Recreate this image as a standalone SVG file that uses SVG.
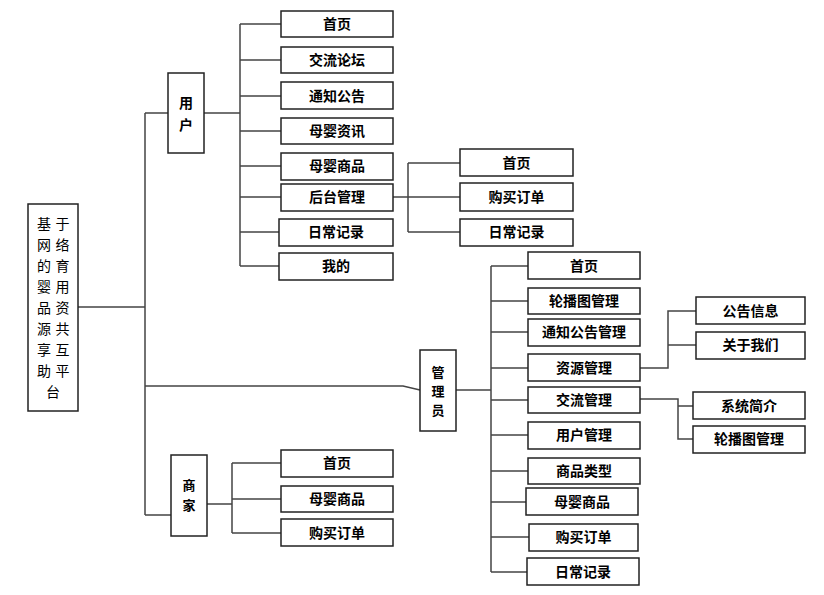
<svg xmlns="http://www.w3.org/2000/svg" width="824" height="595" viewBox="0 0 824 595">
<style>
.b{fill:#fff;stroke:#222;stroke-width:1.5}
.t{font-family:"Noto Sans CJK SC","Noto Sans",sans-serif;font-size:14px;font-weight:bold;fill:#000;text-anchor:middle}
.v{font-family:"Noto Sans CJK SC","Noto Sans",sans-serif;font-size:13px;font-weight:bold;fill:#000;text-anchor:middle}
.r{font-family:"Noto Sans CJK SC","Noto Sans",sans-serif;font-size:14px;fill:#000;text-anchor:middle}
.c{fill:none;stroke:#444;stroke-width:1.5}
</style>
<rect width="824" height="595" fill="#fff"/>
<g id="connectors">
<path class="c" d="M78,307H145M145,113V515M145,113H168M145,386H403L420,390M145,515H171"/>
<path class="c" d="M204,113H240M240,24V266M240,24H281M240,60H281M240,96H281M240,131H281M240,166H281M240,197H281M240,232H279M240,266H279"/>
<path class="c" d="M393,197H460M408,163V232M408,163H460M408,232H460"/>
<path class="c" d="M456,390H491M491,266V572M491,266H528M491,301H528M491,332H528M491,368H528M491,400H528M491,435H528M491,471H528M491,502H526M491,537H529M491,572H527"/>
<path class="c" d="M640,368H668V311H696M668,345H696"/>
<path class="c" d="M640,399H678V439H693M678,406H693"/>
<path class="c" d="M207,504H232M232,463V533M232,463H281M232,499H281M232,533H281"/>
</g>
<g id="root">
<rect class="b" x="28" y="204" width="50" height="207"/>
<text class="r"><tspan x="44" y="228.5">基</tspan><tspan x="62.5" y="228.5">于</tspan><tspan x="44" y="249.5">网</tspan><tspan x="62.5" y="249.5">络</tspan><tspan x="44" y="270.5">的</tspan><tspan x="62.5" y="270.5">育</tspan><tspan x="44" y="291.5">婴</tspan><tspan x="62.5" y="291.5">用</tspan><tspan x="44" y="312.5">品</tspan><tspan x="62.5" y="312.5">资</tspan><tspan x="44" y="333.5">源</tspan><tspan x="62.5" y="333.5">共</tspan><tspan x="44" y="354.5">享</tspan><tspan x="62.5" y="354.5">互</tspan><tspan x="44" y="375.5">助</tspan><tspan x="62.5" y="375.5">平</tspan><tspan x="53" y="396.5">台</tspan></text>
</g>
<g id="user">
<rect class="b" x="168" y="73" width="36" height="80"/>
<text class="t"><tspan x="186" y="108">用</tspan><tspan x="186" y="130">户</tspan></text>
</g>
<g id="u1"><rect class="b" x="281" y="11" width="112" height="26"/><text class="t" x="337" y="29">首页</text></g>
<g id="u2"><rect class="b" x="281" y="47" width="112" height="26"/><text class="t" x="337" y="65">交流论坛</text></g>
<g id="u3"><rect class="b" x="281" y="82" width="112" height="27"/><text class="t" x="337" y="101">通知公告</text></g>
<g id="u4"><rect class="b" x="281" y="118" width="112" height="26"/><text class="t" x="337" y="136">母婴资讯</text></g>
<g id="u5"><rect class="b" x="281" y="153" width="112" height="27"/><text class="t" x="337" y="171">母婴商品</text></g>
<g id="u6"><rect class="b" x="281" y="184" width="112" height="27"/><text class="t" x="337" y="202">后台管理</text></g>
<g id="u7"><rect class="b" x="279" y="219" width="114" height="27"/><text class="t" x="336" y="237">日常记录</text></g>
<g id="u8"><rect class="b" x="279" y="253" width="114" height="27"/><text class="t" x="336" y="271">我的</text></g>
<g id="h1"><rect class="b" x="460" y="149" width="113" height="27"/><text class="t" x="516.5" y="168">首页</text></g>
<g id="h2"><rect class="b" x="460" y="183" width="113" height="28"/><text class="t" x="516.5" y="202">购买订单</text></g>
<g id="h3"><rect class="b" x="460" y="219" width="113" height="27"/><text class="t" x="516.5" y="237">日常记录</text></g>
<g id="admin">
<rect class="b" x="420" y="350" width="36" height="81"/>
<text class="v"><tspan x="438" y="377">管</tspan><tspan x="438" y="396">理</tspan><tspan x="438" y="415">员</tspan></text>
</g>
<g id="a1"><rect class="b" x="528" y="252" width="112" height="27"/><text class="t" x="584" y="271">首页</text></g>
<g id="a2"><rect class="b" x="528" y="288" width="112" height="26"/><text class="t" x="584" y="306">轮播图管理</text></g>
<g id="a3"><rect class="b" x="528" y="319" width="112" height="27"/><text class="t" x="584" y="337">通知公告管理</text></g>
<g id="a4"><rect class="b" x="528" y="354" width="112" height="27"/><text class="t" x="584" y="373">资源管理</text></g>
<g id="a5"><rect class="b" x="528" y="387" width="112" height="26"/><text class="t" x="584" y="405">交流管理</text></g>
<g id="a6"><rect class="b" x="528" y="422" width="112" height="27"/><text class="t" x="584" y="440">用户管理</text></g>
<g id="a7"><rect class="b" x="528" y="458" width="112" height="26"/><text class="t" x="584" y="476">商品类型</text></g>
<g id="a8"><rect class="b" x="526" y="488" width="112" height="27"/><text class="t" x="582" y="507">母婴商品</text></g>
<g id="a9"><rect class="b" x="529" y="524" width="109" height="27"/><text class="t" x="583.5" y="542">购买订单</text></g>
<g id="a10"><rect class="b" x="527" y="558" width="112" height="27"/><text class="t" x="583" y="577">日常记录</text></g>
<g id="r1"><rect class="b" x="696" y="297" width="109" height="27"/><text class="t" x="750.5" y="316">公告信息</text></g>
<g id="r2"><rect class="b" x="696" y="332" width="109" height="27"/><text class="t" x="750.5" y="350">关于我们</text></g>
<g id="x1"><rect class="b" x="693" y="392" width="112" height="27"/><text class="t" x="749" y="411">系统简介</text></g>
<g id="x2"><rect class="b" x="693" y="426" width="112" height="27"/><text class="t" x="749" y="444">轮播图管理</text></g>
<g id="merchant">
<rect class="b" x="171" y="455" width="36" height="81"/>
<text class="v"><tspan x="189" y="490">商</tspan><tspan x="189" y="510">家</tspan></text>
</g>
<g id="m1"><rect class="b" x="281" y="450" width="112" height="27"/><text class="t" x="337" y="468">首页</text></g>
<g id="m2"><rect class="b" x="281" y="486" width="112" height="26"/><text class="t" x="337" y="504">母婴商品</text></g>
<g id="m3"><rect class="b" x="281" y="519" width="112" height="27"/><text class="t" x="337" y="538">购买订单</text></g>
</svg>
